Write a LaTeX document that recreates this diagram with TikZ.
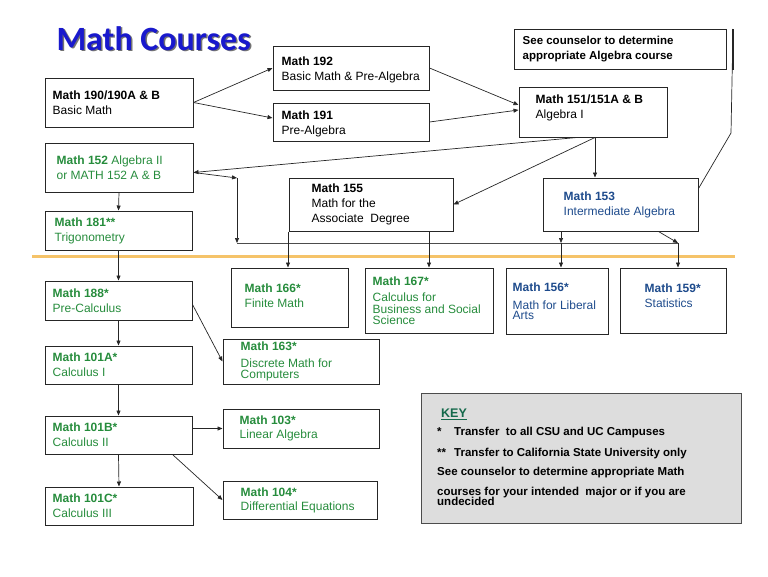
\documentclass[tikz,border=0pt]{standalone}
\usepackage{fontspec}
\setmainfont{Liberation Sans}
\newfontfamily\titlefont{Carlito}
\usepackage{tikz}
\usetikzlibrary{positioning}
\usetikzlibrary{arrows.meta}

\definecolor{mgreen}{RGB}{38,140,60}
\definecolor{mblue}{RGB}{30,75,140}
\definecolor{keygreen}{RGB}{20,105,75}
\definecolor{titleblue}{RGB}{25,25,205}
\definecolor{bandorange}{RGB}{245,195,105}
\definecolor{keygray}{RGB}{221,221,221}

\begin{document}
\begin{tikzpicture}[x=1pt,y=-1pt,
	box/.style={draw=black!85, line width=1pt, inner sep=0pt},
	txt/.style={inner sep=0pt, align=left, font=\fontsize{12}{15}\selectfont},
	tight/.style={inner sep=0pt, align=left, font=\fontsize{12}{10.5}\selectfont, execute at begin node={\lineskiplimit=-20pt\relax}},
	arw/.style={draw=black!85, line width=0.7pt, -{Triangle[length=5pt,width=4pt]}}]

	\useasboundingbox (0,0) rectangle (768,576);

	%Title
	\node[anchor=base west, text=black!55, font=\titlefont\bfseries\fontsize{34}{40}\selectfont] (titleshadow) at (54.5,51.5) {Math Courses};
	\node[anchor=base west, text=titleblue, font=\titlefont\bfseries\fontsize{34}{40}\selectfont] (title) at (53,50) {Math Courses};

	%Divider
	\draw[bandorange, line width=3pt] (32,256) -- (735,256);

	%Top row
	%Math 190
	\node[box, minimum width=148pt, minimum height=49pt] (m190) at (119,102.5) {};
	\node[txt, right=8pt of m190.west] (t190) {\textbf{Math 190/190A \& B}\\Basic Math};

	%Math 192
	\node[box, minimum width=156pt, minimum height=44pt] (m192) at (351,68) {};
	\node[txt, right=9pt of m192.west, yshift=-2pt] (t192) {\textbf{Math 192}\\Basic Math \& Pre-Algebra};

	%Math 191
	\node[box, minimum width=156pt, minimum height=38pt] (m191) at (351,122) {};
	\node[txt, right=9pt of m191.west, yshift=-2pt] (t191) {\textbf{Math 191}\\Pre-Algebra};

	%Counselor note
	\node[box, minimum width=212pt, minimum height=40pt] (counsel) at (620,49) {};
	\node[txt, right=9pt of counsel.west, font=\bfseries\fontsize{11.5}{15}\selectfont] (tcounsel) {See counselor to determine\\appropriate Algebra course};

	%Math 151
	\node[box, minimum width=148pt, minimum height=50pt] (m151) at (593,112) {};
	\node[txt, right=17pt of m151.west, yshift=4pt] (t151) {\textbf{Math 151/151A \& B}\\Algebra I};

	%Middle row
	%Math 152
	\node[box, minimum width=148pt, minimum height=49pt] (m152) at (119,167.5) {};
	\node[txt, right=12pt of m152.west, text=mgreen] (t152) {\textbf{Math 152} Algebra II\\or MATH 152 A \& B};

	%Math 181
	\node[box, minimum width=147pt, minimum height=39pt] (m181) at (118.5,230.5) {};
	\node[txt, right=10pt of m181.west, text=mgreen] (t181) {\textbf{Math 181**}\\Trigonometry};

	%Math 155
	\node[box, minimum width=164pt, minimum height=53pt] (m155) at (371,204.5) {};
	\node[txt, right=23pt of m155.west] (t155) {\textbf{Math 155}\\Math for the\\Associate\ \ Degree};

	%Math 153
	\node[box, minimum width=155pt, minimum height=53pt] (m153) at (620.5,204.5) {};
	\node[txt, right=21pt of m153.west, text=mblue] (t153) {\textbf{Math 153}\\Intermediate Algebra};

	%Lower row
	%Math 166
	\node[box, minimum width=117pt, minimum height=59pt] (m166) at (289.5,297.5) {};
	\node[txt, right=14pt of m166.west, yshift=2pt, text=mgreen] (t166) {\textbf{Math 166*}\\Finite Math};

	%Math 167
	\node[box, minimum width=128pt, minimum height=65pt] (m167) at (429,300.5) {};
	\node[tight, right=8pt of m167.west, text=mgreen] (t167) {\textbf{Math 167*}\\[5.5pt]Calculus for\\[1.5pt]Business and Social\\Science};

	%Math 156
	\node[box, minimum width=102pt, minimum height=66pt] (m156) at (557,301) {};
	\node[tight, right=7pt of m156.west, text=mblue] (t156) {\textbf{Math 156*}\\[7.5pt]Math for Liberal\\Arts};

	%Math 159
	\node[box, minimum width=106pt, minimum height=65pt] (m159) at (673,300.5) {};
	\node[txt, right=25pt of m159.west, yshift=5pt, text=mblue] (t159) {\textbf{Math 159*}\\Statistics};

	%Calculus column
	%Math 188
	\node[box, minimum width=147pt, minimum height=39pt] (m188) at (118.5,300.5) {};
	\node[txt, right=8pt of m188.west, text=mgreen] (t188) {\textbf{Math 188*}\\Pre-Calculus};

	%Math 101A
	\node[box, minimum width=147pt, minimum height=38pt] (m101a) at (118.5,365) {};
	\node[txt, right=8pt of m101a.west, text=mgreen] (t101a) {\textbf{Math 101A*}\\Calculus I};

	%Math 101B
	\node[box, minimum width=147pt, minimum height=38pt] (m101b) at (118.5,435) {};
	\node[txt, right=8pt of m101b.west, text=mgreen] (t101b) {\textbf{Math 101B*}\\Calculus II};

	%Math 101C
	\node[box, minimum width=148pt, minimum height=38pt] (m101c) at (119,506) {};
	\node[txt, right=8pt of m101c.west, text=mgreen] (t101c) {\textbf{Math 101C*}\\Calculus III};

	%Math 163
	\node[box, minimum width=156pt, minimum height=45pt] (m163) at (301,361.5) {};
	\node[tight, right=18pt of m163.west, text=mgreen] (t163) {\textbf{Math 163*}\\[6.5pt]Discrete Math for\\Computers};

	%Math 103
	\node[box, minimum width=156pt, minimum height=39pt] (m103) at (301,428.5) {};
	\node[txt, right=17pt of m103.west, text=mgreen, font=\fontsize{12}{14}\selectfont] (t103) {\textbf{Math 103*}\\Linear Algebra};

	%Math 104
	\node[box, minimum width=154pt, minimum height=38pt] (m104) at (300,500) {};
	\node[txt, right=18pt of m104.west, text=mgreen, font=\fontsize{12}{14}\selectfont] (t104) {\textbf{Math 104*}\\Differential Equations};

	%Key
	\node[box, fill=keygray, draw=black!70, minimum width=320pt, minimum height=130pt] (key) at (581,458) {};
	\node[tight, anchor=north west, font=\bfseries\fontsize{11.5}{10}\selectfont] (keytext) at (437,409)
		{\hspace{4pt}\textcolor{keygreen}{\fontsize{12.5}{10}\selectfont\underline{KEY}}\\[8pt]
		\makebox[17pt][l]{*}Transfer\ \ to all CSU and UC Campuses\\[11pt]
		\makebox[17pt][l]{**}Transfer to California State University only\\[9pt]
		See counselor to determine appropriate Math\\[10pt]
		courses for your intended\ \ major or if you are\\
		undecided};

	%Connectors
	\coordinate (c152) at (237,178);
	\coordinate (busw) at (237,243);
	\coordinate (buse) at (678,243);
	\coordinate (d151) at (595,0);
	\coordinate (d166) at (288,0);
	\coordinate (d156) at (561,0);
	\coordinate (cs1) at (733,29);
	\coordinate (cs2) at (731,133);

	\draw[arw] (m190.east) -- (m192.west);
	\draw[arw] (m190.east) -- ([yshift=4pt]m191.west);
	\draw[arw] (m192.east) -- ([yshift=7pt]m151.west);
	\draw[arw] (m191.east) -- ([yshift=2pt]m151.west);
	\draw[arw] ([xshift=-16pt]m151.south) -- ([yshift=-5pt]m152.east);
	\draw[arw] (d151 |- m151.south) -- (m155.east);
	\draw[arw] (d151 |- m151.south) -- (d151 |- m153.north);
	\draw[draw=black!85, line width=0.7pt] (cs1) -- (cs2) -- ([yshift=16pt]m153.east);
	\draw[draw=black!85, line width=1.6pt] (cs1) -- (cs1 |- counsel.south);

	\draw[arw] ([yshift=-5pt]m152.east) -- (c152);
	\draw[arw] (c152) -- (busw);
	\draw[draw=black!70, line width=0.9pt] (busw) -- (buse);
	\draw[arw] (d166 |- m155.south) -- (d166 |- m166.north);
	\draw[arw] (m167.north |- m155.south) -- (m167.north);
	\draw[arw] (d156 |- m153.south) -- (d156 |- busw);
	\draw[arw] (d156 |- busw) -- (d156 |- m156.north);
	\draw[arw] ([xshift=-40pt]m153.south east) -- (buse);
	\draw[arw] (buse) -- (buse |- m159.north);

	\draw[arw] (m152.south) -- (m181.north);
	\draw[arw] (m181.south) -- (m188.north);
	\draw[arw] (m188.south) -- (m101a.north);
	\draw[arw] (m101a.south) -- (m101b.north);
	\draw[arw] (m101b.south) -- (m101c.north);
	\draw[arw] ([yshift=-4pt]m188.east) -- (m163.west);
	\draw[arw] (m101b.east |- m103.west) -- (m103.west);
	\draw[arw] ([xshift=-20pt]m101b.south east) -- (m104.west);

\end{tikzpicture}
\end{document}
